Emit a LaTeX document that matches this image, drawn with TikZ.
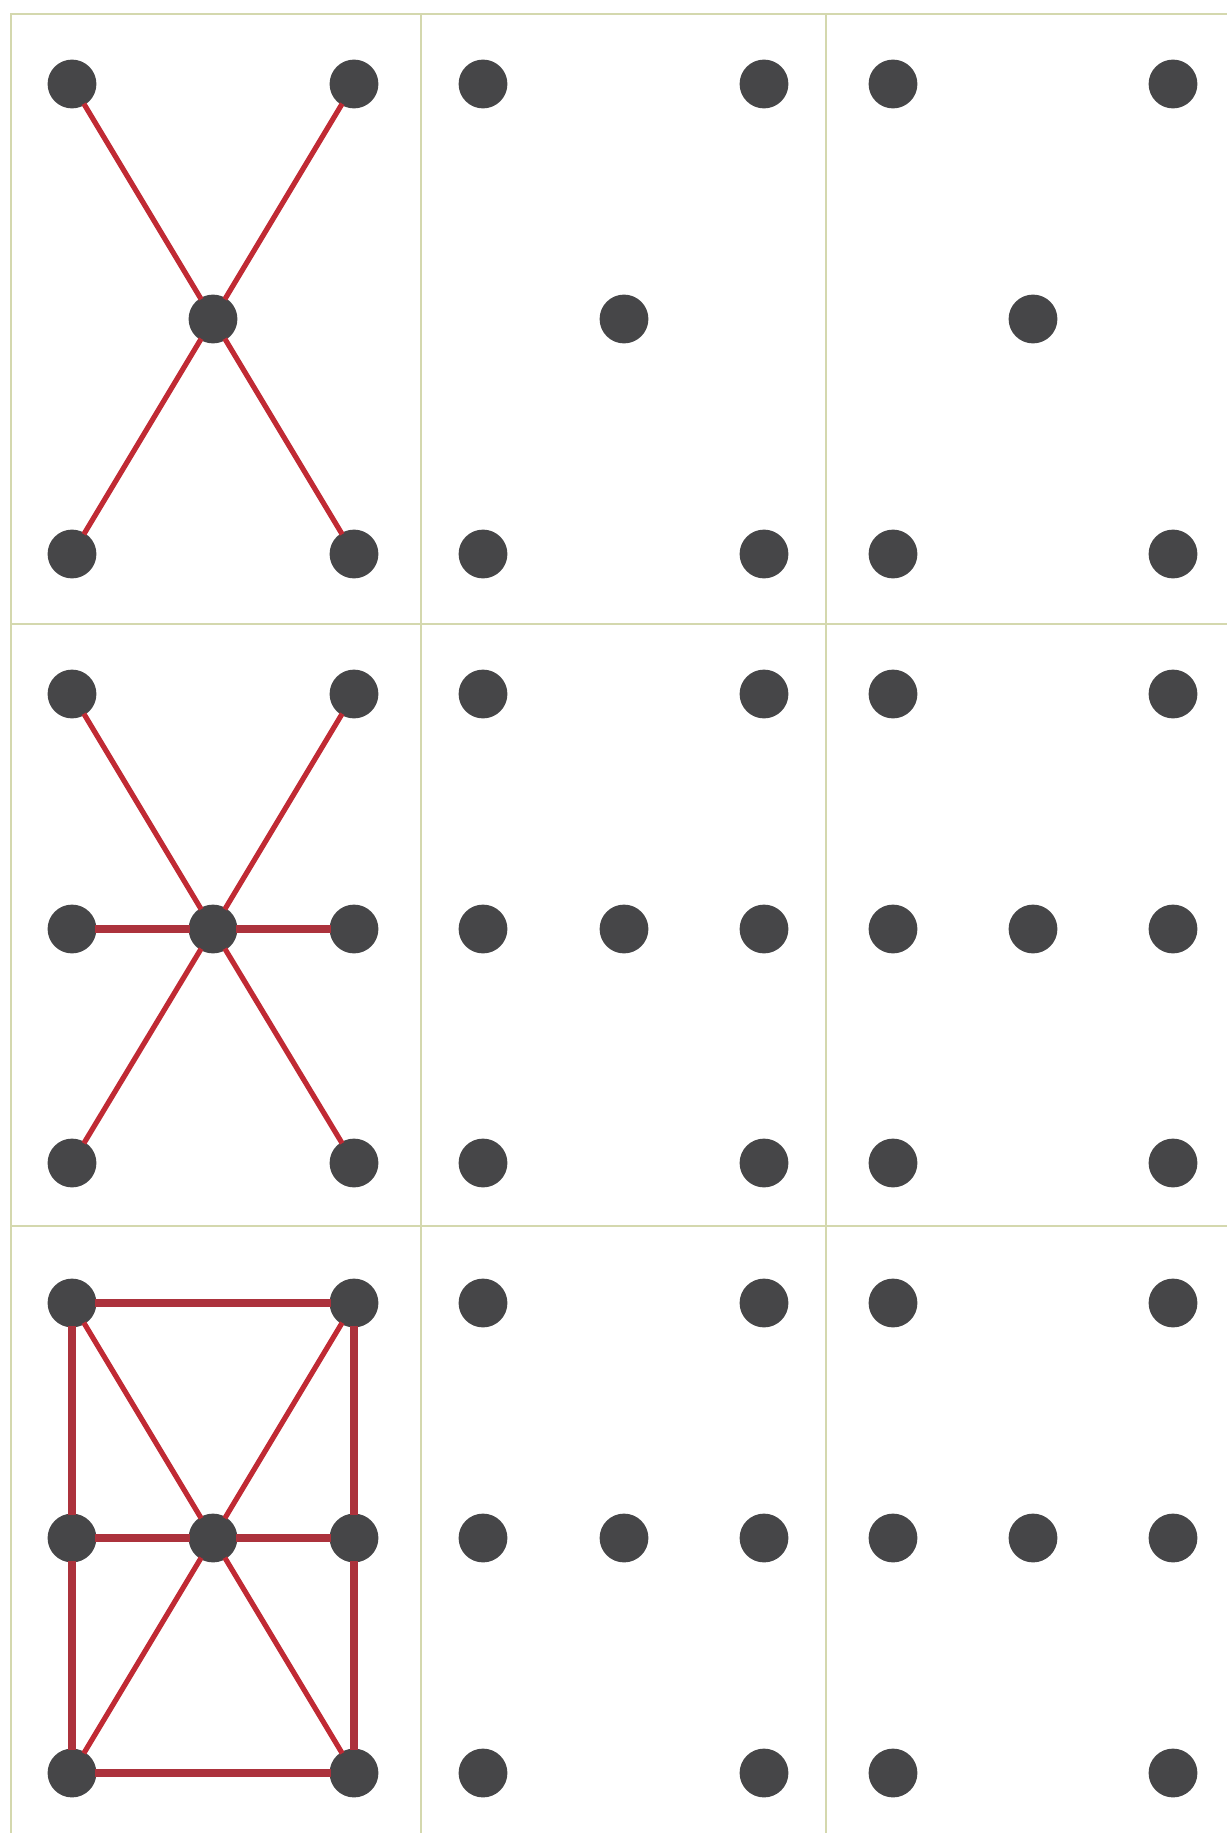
\documentclass[tikz,border=0pt]{standalone}
\definecolor{gridline}{RGB}{212,216,174}
\definecolor{dotgray}{RGB}{70,70,72}
\definecolor{linkred}{RGB}{192,42,52}
\definecolor{framered}{RGB}{172,50,60}
\begin{document}
\begin{tikzpicture}[x=0.025cm, y=-0.025cm,
  dot/.style={circle, fill=dotgray, minimum size=1.22cm, inner sep=0pt, outer sep=-1pt},
  link/.style={linkred, line width=3.7pt},
  bar/.style={framered, line width=5.4pt}]
\useasboundingbox (0,0) rectangle (1227,1833);
% grid of cells
\draw[gridline, line width=1.7pt] (11,1833) -- (11,14) -- (1227,14);
\draw[gridline, line width=1.7pt] (421,14) -- (421,1833);
\draw[gridline, line width=1.7pt] (826,14) -- (826,1833);
\draw[gridline, line width=1.7pt] (11,624) -- (1227,624);
\draw[gridline, line width=1.7pt] (11,1226) -- (1227,1226);
% row 1: five dots, X drawn in first cell
\node[dot] (atl) at (72,84) {};
\node[dot] (atr) at (354,84) {};
\node[dot] (ac) at (213,319) {};
\node[dot] (abl) at (72,554) {};
\node[dot] (abr) at (354,554) {};
\draw[link] (atl) -- (ac) -- (abr);
\draw[link] (atr) -- (ac) -- (abl);
% row 2: seven dots, star
\node[dot] (btl) at (72,694) {};
\node[dot] (btr) at (354,694) {};
\node[dot] (bml) at (72,929) {};
\node[dot] (bc) at (213,929) {};
\node[dot] (bmr) at (354,929) {};
\node[dot] (bbl) at (72,1163) {};
\node[dot] (bbr) at (354,1163) {};
\draw[link] (btl) -- (bc) -- (bbr);
\draw[link] (btr) -- (bc) -- (bbl);
\draw[bar] (bml) -- (bc) -- (bmr);
% row 3: seven dots, star in a frame
\node[dot] (ctl) at (72,1303) {};
\node[dot] (ctr) at (354,1303) {};
\node[dot] (cml) at (72,1538) {};
\node[dot] (cc) at (213,1538) {};
\node[dot] (cmr) at (354,1538) {};
\node[dot] (cbl) at (72,1773) {};
\node[dot] (cbr) at (354,1773) {};
\draw[link] (ctl) -- (cc) -- (cbr);
\draw[link] (ctr) -- (cc) -- (cbl);
\draw[bar] (cml) -- (cc) -- (cmr);
\draw[bar] (ctl) -- (ctr);
\draw[bar] (cbl) -- (cbr);
\draw[bar] (ctl) -- (cml) -- (cbl);
\draw[bar] (ctr) -- (cmr) -- (cbr);
% empty cells
\foreach \x in {483,764,893,1173}
  \foreach \y in {84,554,694,1163,1303,1773}
    \node[dot] (d-\x-\y) at (\x,\y) {};
\foreach \x in {624,1033}
  \node[dot] (m-\x-319) at (\x,319) {};
\foreach \x in {483,624,764,893,1033,1173}
  \foreach \y in {929,1538}
    \node[dot] (m-\x-\y) at (\x,\y) {};
\end{tikzpicture}
\end{document}
